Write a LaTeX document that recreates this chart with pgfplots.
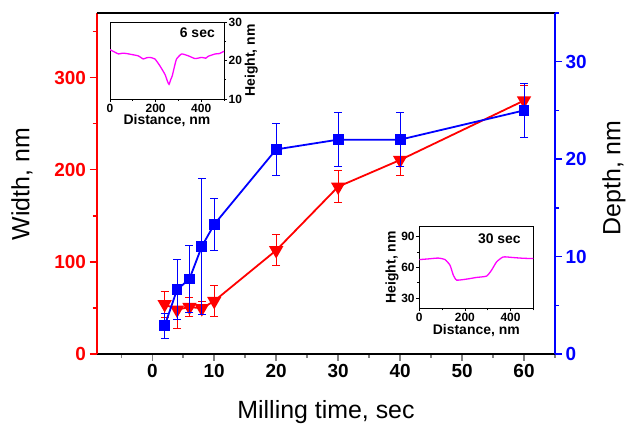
\documentclass[border=0pt]{standalone}
\usepackage{pgfplots}
\pgfplotsset{compat=1.18}
\usepackage{fontspec}
\setmainfont{Liberation Sans}
\definecolor{cred}{HTML}{FF0000}
\definecolor{cblue}{HTML}{0000FF}
\definecolor{cmag}{HTML}{FF00FF}
\pgfplotstableread{
t w e
2 54 14
4 48 20
6 51 10
8 49.5 7
10 57.5 17
20 112.5 17
30 181.5 17.5
40 210.5 17
60 275 16.5
}\widthdata
\pgfplotstableread{
t d e
2 2.9 1.3
4 6.6 3.1
6 7.7 3.4
8 11.05 6.95
10 13.3 2.7
20 21.0 2.7
30 22.0 2.75
40 22.0 2.75
60 25.0 2.75
}\depthdata
\begin{document}
\begin{tikzpicture}
\useasboundingbox (0,0) rectangle (628bp,425bp);
\pgfplotsset{
  mainaxis/.style={
    scale only axis, width=458.5bp, height=341bp, at={(96.5bp,71bp)}, anchor=south west,
    xmin=-9, xmax=65,
    /pgf/number format/assume math mode=true,
    tick align=outside,
    major tick length=7bp, minor tick length=4bp,
    axis line style={line width=2bp, -},
    tick style={line width=1.5bp},
    ticklabel style={font=\bfseries\fontsize{19}{19}\selectfont},
  },
  inset/.style={
    scale only axis, anchor=south west,
    xmin=0, xmax=500,
    /pgf/number format/assume math mode=true,
    tick align=outside,
    major tick length=3bp, minor tick length=2bp,
    axis line style={line width=0.8bp, -},
    tick style={line width=0.8bp, black},
    ticklabel style={font=\bfseries\fontsize{12}{12}\selectfont, inner sep=1.5bp},
    label style={font=\bfseries\fontsize{14}{14}\selectfont, inner sep=1bp},
    xtick={0,200,400}, minor xtick={100,300,500},
    xtick pos=bottom,
    xlabel={Distance, nm},
  },
}
% left axis: width
\begin{axis}[mainaxis,
  axis y line*=left, axis x line*=bottom,
  ymin=0, ymax=370,
  ytick={0,100,200,300}, minor ytick={50,150,250,350},
  xtick={0,10,...,60}, minor xtick={-5,5,...,65},
  y axis line style={cred},
  ytick style={cred, line width=1.5bp},
  yticklabel style={cred},
  x axis line style={black},
]
\addplot[cred, line width=1.8bp, mark=triangle*, mark size=6.5bp,
  mark options={rotate=180, solid, fill=cred},
  error bars/.cd, y dir=both, y explicit,
  error bar style={line width=1bp, cred},
  error mark options={rotate=90, mark size=4bp, line width=1bp, cred}]
  table[x=t, y=w, y error=e] {\widthdata};
\end{axis}
% right axis: depth
\begin{axis}[mainaxis,
  axis y line*=right, axis x line*=top,
  ymin=0, ymax=35,
  ytick={0,10,20,30}, minor ytick={5,15,25,35},
  xtick=\empty,
  y axis line style={cblue},
  ytick style={cblue, line width=1.5bp},
  yticklabel style={cblue},
  x axis line style={black},
]
\addplot[cblue, line width=1.8bp, mark=square*, mark size=4.5bp,
  mark options={solid, fill=cblue},
  error bars/.cd, y dir=both, y explicit,
  error bar style={line width=1bp, cblue},
  error mark options={rotate=90, mark size=4bp, line width=1bp, cblue}]
  table[x=t, y=d, y error=e] {\depthdata};
\end{axis}
% inset 6 sec
\begin{axis}[inset, at={(110bp,326bp)}, width=114bp, height=77bp,
  ymin=10, ymax=30, ytick={10,20,30}, minor ytick={15,25},
  ytick pos=right, yticklabel pos=right,
  ylabel={Height, nm},
]
\addplot[cmag, line width=1.3bp, smooth, tension=0.3] coordinates {
(0,22.8) (20,22.2) (37,21.7) (55,21.9) (73,21.8) (100,21.5) (124,21.2) (146,20.4) (160,20.7) (175,20.8) (197,20.4)
(219,18.6) (241,16.4) (252,14.6) (259,13.8) (266,15.0) (273,16.0) (283,18.5) (292,20.4) (314,21.7) (344,21.2)
(373,20.5) (402,20.8) (420,20.6) (431,21.1) (461,21.7) (480,21.8) (500,22.4)};
\node[font=\bfseries\fontsize{14}{14}\selectfont, anchor=north east] at (rel axis cs:0.95,0.97) {6 sec};
\end{axis}
% inset 30 sec
\begin{axis}[inset, at={(419.3bp,116.7bp)}, width=114bp, height=82bp,
  ymin=20, ymax=100, ytick={30,60,90}, minor ytick={45,75},
  ytick pos=left,
  ylabel={Height, nm},
]
\addplot[cmag, line width=1.3bp, smooth, tension=0.3] coordinates {
(0,67.5) (40,68.2) (83,69.0) (113,67.5) (135,61.9) (149,52.4) (164,47.5) (208,48.5) (251,50.1) (295,51.4)
(317,57.2) (339,65.3) (368,70.1) (412,69.5) (456,68.8) (500,68.5)};
\node[font=\bfseries\fontsize{14}{14}\selectfont, anchor=north east] at (rel axis cs:0.92,0.95) {30 sec};
\end{axis}
% axis labels
\node[rotate=90, inner sep=0pt, font=\fontsize{25}{25}\selectfont] at (22bp,241bp) {Width, nm};
\node[rotate=90, inner sep=0pt, font=\fontsize{25}{25}\selectfont] at (614bp,247bp) {Depth, nm};
\node[inner sep=0pt, font=\fontsize{25}{25}\selectfont] at (326bp,13bp) {Milling time, sec};
\end{tikzpicture}
\end{document}
